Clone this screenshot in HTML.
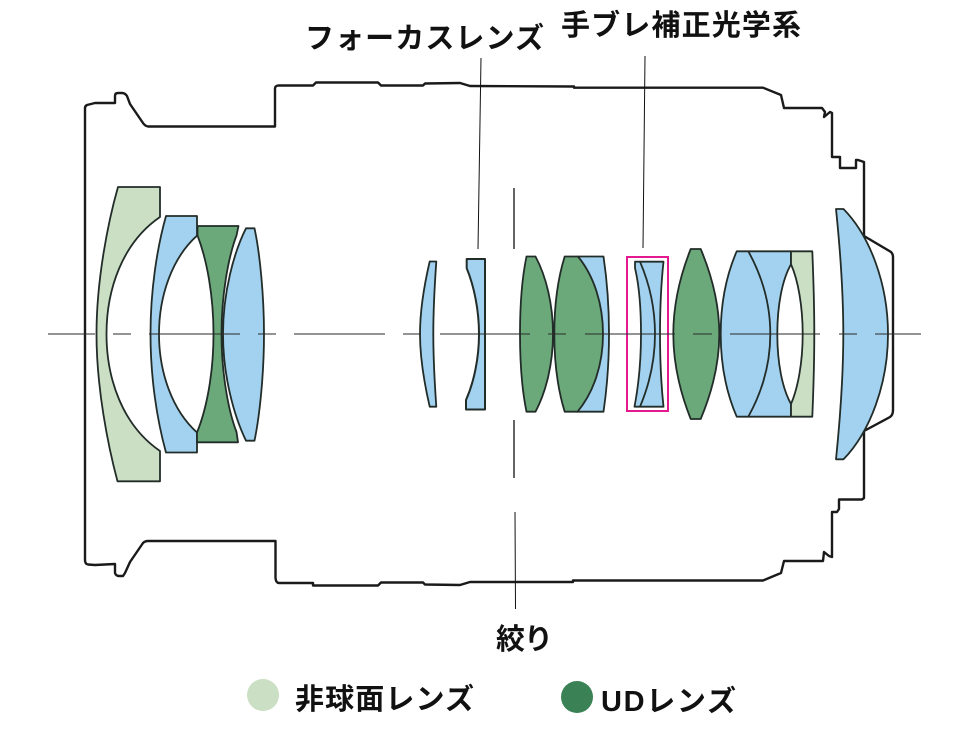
<!DOCTYPE html>
<html lang="ja"><head><meta charset="utf-8"><title>Lens diagram</title>
<style>html,body{margin:0;padding:0;background:#fff}svg{display:block}
text{font-family:"Liberation Sans","Noto Sans CJK JP",sans-serif;font-weight:700;fill:#111;font-size:29px}</style></head>
<body>
<svg width="972" height="729" viewBox="0 0 972 729" xmlns="http://www.w3.org/2000/svg">
<rect width="972" height="729" fill="#fff"/>
<!-- housing -->
<path fill="none" stroke="#1a1a1a" stroke-width="2.400" stroke-linejoin="round" d="M864 236L891 252Q893 254 893 257V410Q893 415 890 417L864 431M864 236V162L858 160H856V168H840V157H832V113L830 112L824 117L825 112L822 108H784L781 95L763 87.700H574V86.500H573L470 86L460 83L425 83.500L423 85.500H381L378 82.500H316L313 85.500H278Q275 86 275 88.500V126.500H148Q145 126 143 123L130 104L127 96Q125 93 122 93H118Q115 93 115 96V103H95L87 105Q85 106 85 108V560Q85 564 88 564.500L95 565L115 564V573Q116 576 119 576H123L125 573L130 562L143 543Q145 541 148 541H275.500V578Q276 583 279 583H313V585.500H378L381 582.500H423L425 584.500L460 585L470 582H573V580.500H763L781 573L784 561H823L824 552L829 556L832 557V512H837L839 509V499.500H862L864 498V431"/>
<!-- lens 1 -->
<path fill="#cbdfc4" stroke="#222c28" stroke-width="1.800" stroke-linejoin="round" d="M118 187H160V217C122 243 106.500 290 106.500 334C106.500 378 122 425 160 451V481.300H117.500C108 446 96.500 388 96.500 334C96.500 280 108 222 118 187Z"/>
<!-- lens 2 -->
<path fill="#a2d2ef" stroke="#222c28" stroke-width="1.800" stroke-linejoin="round" d="M166 216H197V235.700C172 258 159 296 159 334C159 372 172 410 197 432.500V452.500H166C157 420 150.500 378 150.500 334C150.500 290 157 248 166 216Z"/>
<!-- lens 3 -->
<path fill="#6ba97b" stroke="#222c28" stroke-width="1.800" stroke-linejoin="round" d="M197.500 226H238.500L236.500 235.500C228 258 221.500 296 221.500 334C221.500 372 228 410 236.500 432L238 442.300H197L197 432.500C207 408 213.500 372 213.500 334C213.500 296 207 260 197.500 235.500Z"/>
<!-- lens 4 -->
<path fill="#a2d2ef" stroke="#222c28" stroke-width="1.800" stroke-linejoin="round" d="M246 228.300H254.500C260 254 264 296 264 334C264 372 260 414 254.500 440.700H246C234 416 223 376 223 334C223 292 234 252 246 228.300Z"/>
<!-- lens 5 -->
<path fill="#a2d2ef" stroke="#222c28" stroke-width="1.800" stroke-linejoin="round" d="M429.700 261.500H436.300C434.300 290 433.300 312 433.300 334C433.300 356 434.300 378 436.300 406.700H429.700C424 382 420 358 420 334C420 310 424 286 429.700 261.500Z"/>
<!-- lens 6 -->
<path fill="#a2d2ef" stroke="#222c28" stroke-width="2" stroke-linejoin="round" d="M466.700 259H485V409.500H466V400C474 382 479 358 479 334C479 310 474 286 466.700 268.300Z"/>
<!-- lens 7 -->
<path fill="#6ba97b" stroke="#222c28" stroke-width="1.800" stroke-linejoin="round" d="M526.500 256.500H535.500C546 276 553 304 553 334C553 364 546 392 535.500 411.700H526.500C522 390 520 362 520 334C520 306 522 278 526.500 256.500Z"/>
<!-- lens 8 -->
<path fill="#a2d2ef" stroke="#222c28" stroke-width="1.800" stroke-linejoin="round" d="M578 256.500H603.500C607 280 609 306 609 334C609 362 607 388 603.500 411.700H577Z"/>
<path fill="#6ba97b" stroke="#222c28" stroke-width="1.800" stroke-linejoin="round" d="M564.700 256.500H578C594 276 603 304 603 334C603 364 594 392 577.500 411.700H564.700C558 390 554.300 362 554.300 334C554.300 306 558 278 564.700 256.500Z"/>
<!-- lens 9 -->
<path fill="#a2d2ef" stroke="#222c28" stroke-width="1.800" stroke-linejoin="round" d="M635 261.700H663.500C661 285 660 310 660 334C660 358 661 383 663.500 406.700H634.500C639 383 641 358 641 334C641 310 639 285 635 268Z"/>
<path fill="none" stroke="#222c28" stroke-width="1.800" d="M640 261.700C650 285 655 310 655 334C655 358 650 383 640 406.700"/>
<rect x="627" y="257" width="41" height="154" fill="none" stroke="#e5198f" stroke-width="2"/>
<!-- lens 10 -->
<path fill="#6ba97b" stroke="#222c28" stroke-width="1.800" stroke-linejoin="round" d="M690.700 249H700.700C712 276 719.300 304 719.300 334C719.300 364 712 392 700.700 419H690.700C680 392 673.300 364 673.300 334C673.300 304 680 276 690.700 249Z"/>
<!-- lens 12 -->
<path fill="#a2d2ef" stroke="#222c28" stroke-width="1.800" stroke-linejoin="round" d="M748.300 251.300H791V264.300C782 280 777.300 306 777.300 334C777.300 362 782 388 791 404V416.700H748.300Z"/>
<!-- lens 11 -->
<path fill="#a2d2ef" stroke="#222c28" stroke-width="1.800" stroke-linejoin="round" d="M736.700 251.300H748.300C762 276 770.300 304 770.300 334C770.300 364 762 392 748.300 416.700H736.700C726 392 720.700 364 720.700 334C720.700 304 726 276 736.700 251.300Z"/>
<!-- lens 13 -->
<path fill="#cbdfc4" stroke="#222c28" stroke-width="1.800" stroke-linejoin="round" d="M791 251.300H812.300C813.500 280 814.300 306 814.300 334C814.300 362 813.500 388 812.300 416.700H791V404C798 388 802.700 362 802.700 334C802.700 306 798 280 791 264.300Z"/>
<!-- lens 14 -->
<path fill="#a2d2ef" stroke="#222c28" stroke-width="1.800" stroke-linejoin="round" d="M836 209H843.500C870 236 888 284 888 334C888 384 870 432 843.500 459.300H836C840 420 843.300 378 843.300 334C843.300 290 840 248 836 209Z"/>
<!-- axis -->
<path fill="none" stroke="#2a2a2a" stroke-width="1" d="M48 334H95M113 334H131M149 334H240M258 334H276M294 334H385M403 334H421M440 334H530M548 334H566M585 334H675M693 334H712M730 334H820M839 334H857M875 334H921"/>
<!-- leaders -->
<path fill="none" stroke="#111" stroke-width="1" d="M481 58L478 249M645 56L643 248M515 512L515.500 609"/>
<path fill="none" stroke="#111" stroke-width="1.300" d="M514 188V249M514 420V478"/>
<!-- labels -->
<text x="305" y="48" textLength="239" lengthAdjust="spacing">フォーカスレンズ</text>
<text x="561" y="35" textLength="240" lengthAdjust="spacing">手ブレ補正光学系</text>
<text x="496" y="649" textLength="57" lengthAdjust="spacing">絞り</text>
<circle cx="263" cy="695" r="16" fill="#cbdfc4"/>
<circle cx="577" cy="697" r="16" fill="#3a8256"/>
<text x="295" y="709" textLength="179" lengthAdjust="spacing">非球面レンズ</text>
<text x="601" y="711" textLength="135" lengthAdjust="spacing">UDレンズ</text>
</svg>
</body></html>
